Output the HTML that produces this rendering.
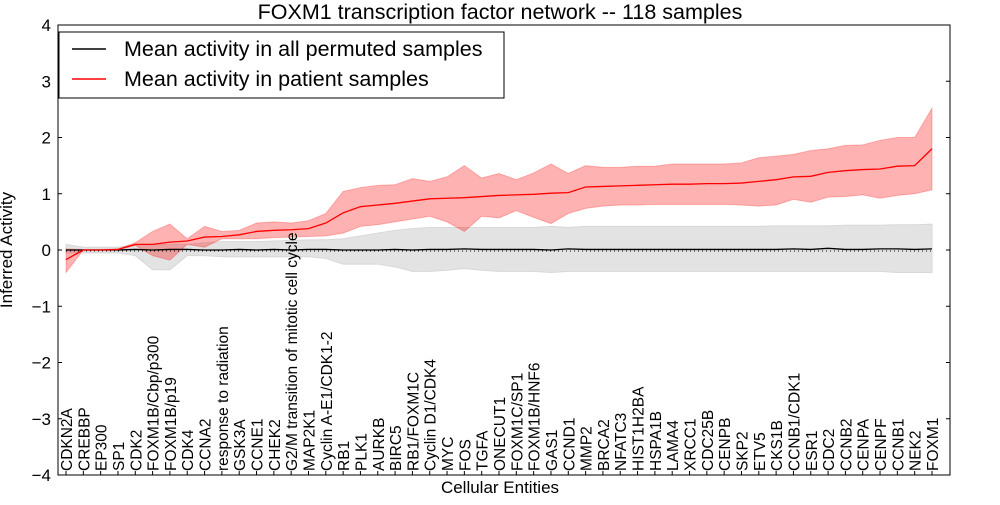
<!DOCTYPE html>
<html><head><meta charset="utf-8"><style>
body{margin:0;background:#fff;}
svg{font-family:"Liberation Sans","DejaVu Sans",sans-serif;}
</style></head><body>
<svg id="chart" width="1000" height="500" xmlns="http://www.w3.org/2000/svg">
<rect x="0" y="0" width="1000" height="500" fill="#fff"/>
<text x="500" y="19" font-size="21.5" text-anchor="middle">FOXM1 transcription factor network -- 118 samples</text>
<g id="bands"></g><g id="lines"></g>
<rect x="58" y="25" width="892" height="450" fill="none" stroke="#000" stroke-width="1"/>
<g id="axes"></g>
<text transform="translate(12,250) rotate(-90)" font-size="17" text-anchor="middle">Inferred Activity</text>
<text x="500" y="493" font-size="17" text-anchor="middle">Cellular Entities</text>
<g>
<rect x="59" y="32" width="445" height="66" fill="#fff" stroke="#000"/>
<line x1="72" y1="49" x2="106" y2="49" stroke="#000" stroke-width="1.5"/>
<text x="124" y="56" font-size="21.5">Mean activity in all permuted samples</text>
<line x1="72" y1="79" x2="106" y2="79" stroke="#f00" stroke-width="1.5"/>
<text x="124" y="86" font-size="21.5">Mean activity in patient samples</text>
</g>
</svg>
<script>
const categories=["CDKN2A","CREBBP","EP300","SP1","CDK2","FOXM1B/Cbp/p300","FOXM1B/p19","CDK4","CCNA2","response to radiation","GSK3A","CCNE1","CHEK2","G2/M transition of mitotic cell cycle","MAP2K1","Cyclin A-E1/CDK1-2","RB1","PLK1","AURKB","BIRC5","RB1/FOXM1C","Cyclin D1/CDK4","MYC","FOS","TGFA","ONECUT1","FOXM1C/SP1","FOXM1B/HNF6","GAS1","CCND1","MMP2","BRCA2","NFATC3","HIST1H2BA","HSPA1B","LAMA4","XRCC1","CDC25B","CENPB","SKP2","ETV5","CKS1B","CCNB1/CDK1","ESR1","CDC2","CCNB2","CENPA","CENPF","CCNB1","NEK2","FOXM1"];
const patientMean=[-0.17,0,0,0.01,0.1,0.1,0.14,0.16,0.23,0.24,0.27,0.33,0.35,0.36,0.38,0.48,0.66,0.77,0.8,0.83,0.87,0.91,0.92,0.93,0.95,0.97,0.98,0.99,1.01,1.02,1.12,1.13,1.14,1.15,1.16,1.17,1.17,1.18,1.18,1.19,1.22,1.25,1.3,1.31,1.38,1.41,1.43,1.44,1.49,1.5,1.8];
const patientUpper=[0.02,0.01,0.01,0.02,0.13,0.33,0.46,0.2,0.42,0.33,0.35,0.48,0.5,0.48,0.52,0.65,1.04,1.11,1.15,1.16,1.27,1.22,1.3,1.5,1.28,1.36,1.25,1.37,1.53,1.36,1.5,1.47,1.47,1.49,1.49,1.53,1.53,1.53,1.53,1.55,1.64,1.67,1.7,1.77,1.8,1.86,1.87,1.95,2.0,2.0,2.52];
const patientLower=[-0.4,0,0,0,0.08,-0.1,-0.18,0.1,0.05,0.2,0.2,0.2,0.22,0.23,0.24,0.25,0.3,0.42,0.45,0.5,0.55,0.6,0.5,0.33,0.6,0.57,0.7,0.58,0.47,0.65,0.74,0.78,0.8,0.8,0.81,0.81,0.81,0.81,0.81,0.8,0.78,0.8,0.9,0.85,0.94,0.95,0.98,0.92,0.97,1.0,1.07];
const permMean=[0,0,0,0,0.01,0,0.01,0.01,0,0,0.01,0,0.01,0,0.01,0.01,0,0,0,0.01,0,0.01,0.01,0.02,0.01,0.01,0.01,0.01,0,0.02,0.01,0.01,0.01,0.01,0.01,0.01,0.01,0.01,0.01,0.01,0.01,0.01,0.02,0.01,0.03,0.01,0.01,0.02,0.02,0.01,0.02];
const permUpper=[0.1,0.05,0.05,0.05,0.08,0.1,0.1,0.1,0.13,0.15,0.15,0.15,0.16,0.17,0.18,0.18,0.2,0.25,0.3,0.35,0.38,0.4,0.4,0.4,0.4,0.4,0.4,0.4,0.42,0.4,0.42,0.42,0.42,0.42,0.42,0.42,0.42,0.42,0.42,0.42,0.42,0.43,0.43,0.43,0.43,0.44,0.44,0.44,0.45,0.45,0.46];
const permLower=[-0.05,-0.05,-0.05,-0.05,-0.1,-0.35,-0.35,-0.1,-0.1,-0.12,-0.12,-0.12,-0.12,-0.12,-0.12,-0.15,-0.25,-0.25,-0.25,-0.3,-0.38,-0.38,-0.36,-0.33,-0.36,-0.38,-0.38,-0.38,-0.4,-0.38,-0.38,-0.38,-0.38,-0.38,-0.38,-0.38,-0.38,-0.38,-0.38,-0.38,-0.38,-0.38,-0.38,-0.38,-0.38,-0.38,-0.38,-0.38,-0.4,-0.4,-0.4];
const yTicks=[-4,-3,-2,-1,0,1,2,3,4];
const NS="http://www.w3.org/2000/svg";
function xs(i){return 66+i*(932-66)/(categories.length-1);}
function ys(v){return 250-v*56.25;}
function mk(tag,attrs,parent){const e=document.createElementNS(NS,tag);for(const k in attrs)e.setAttribute(k,attrs[k]);parent.appendChild(e);return e;}
const bands=document.getElementById('bands'),lines=document.getElementById('lines'),axes=document.getElementById('axes');
function band(up,lo,fill,stroke,name){
 let d=up.map((v,i)=>(i?'L':'M')+xs(i)+','+ys(v)).join('')+lo.map((v,i)=>i).reverse().map(i=>'L'+xs(i)+','+ys(lo[i])).join('')+'Z';
 const p=mk('path',{d:d,fill:fill,stroke:stroke,'stroke-width':1},bands);
 
 
}
band(permUpper,permLower,'#e3e3e3','#d8d8d8','permuted-band');
band(patientUpper,patientLower,'rgba(255,0,0,0.3)','rgba(255,0,0,0.25)','patient-band');
function line(arr,col,name){
 const p=mk('path',{d:arr.map((v,i)=>(i?'L':'M')+xs(i)+','+ys(v)).join(''),fill:'none',stroke:col,'stroke-width':1.3},lines);
 
 
}
mk('line',{x1:66,x2:932,y1:251,y2:251,stroke:'#000','stroke-dasharray':'1,3','stroke-width':1},lines);
line(permMean,'#000','permuted-mean-line');
line(patientMean,'#f00','patient-mean-line');
yTicks.forEach(t=>{
 const y=ys(t);
 mk('line',{x1:58,x2:62,y1:y,y2:y,stroke:'#000'},axes);
 mk('line',{x1:946,x2:950,y1:y,y2:y,stroke:'#000'},axes);
 const tx=mk('text',{x:51,y:y+6,'font-size':17,'text-anchor':'end'},axes);
 tx.textContent=(t<0?'\u2212'+(-t):t);
 
 
});
categories.forEach((c,i)=>{
 const x=xs(i);
 mk('line',{x1:x,x2:x,y1:471,y2:475,stroke:'#000'},axes);
 const tx=mk('text',{transform:'translate('+(x+6)+',471) rotate(-90)','font-size':15.5},axes);
 tx.textContent=c;
 
 
});
</script>
</body></html>
